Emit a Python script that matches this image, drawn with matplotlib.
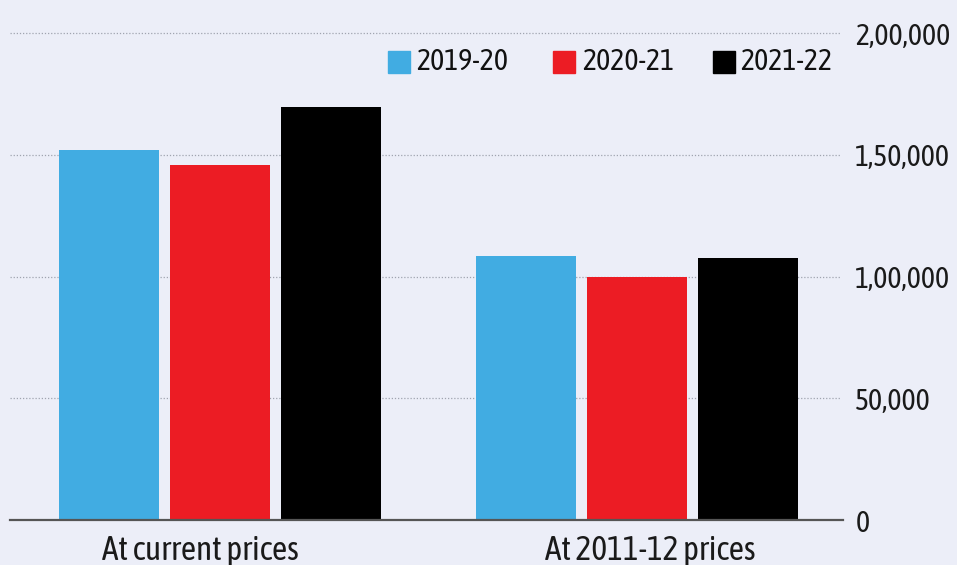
import matplotlib
matplotlib.use("Agg")
import matplotlib.pyplot as plt
import matplotlib.transforms as mtransforms
import numpy as np
from matplotlib.patches import Rectangle

categories = ["At current prices", "At 2011-12 prices"]
years = ["2019-20", "2020-21", "2021-22"]
v2019 = [152000, 108600]
v2020 = [146000, 100000]
v2021 = [169800, 107800]
colors = ["#41ACE2", "#EC1C24", "#000000"]
yticks = [0, 50000, 100000, 150000, 200000]
ytick_labels = ["0", "50,000", "1,00,000", "1,50,000", "2,00,000"]

bg = "#ECEEF8"
plt.rcParams['font.family'] = ['Asap Condensed', 'DejaVu Sans']

fig = plt.figure(figsize=(9.57, 5.65), dpi=100, facecolor=bg)
W, H = 957, 565
ax = fig.add_axes([10 / W, 1 - 520 / H, (840 - 10) / W, (520 - 33.3) / H])
ax.set_facecolor(bg)

x = np.arange(len(categories))
w = 0.24
step = 0.266
series = [v2019, v2020, v2021]
for i, (vals, c) in enumerate(zip(series, colors)):
    ax.bar(x + (i - 1) * step, vals, width=w, color=c, zorder=3)

ax.set_xlim(-0.504, 1.487)
ax.set_ylim(0, 200000)

for t in yticks[1:]:
    ax.axhline(t, color="#A0A4B0", lw=0.9, ls=(0, (1, 1.5)), zorder=1, clip_on=False)
ax.axhline(0, color="#555555", lw=1.6, zorder=4, clip_on=False, xmax=1.004)

for s in ax.spines.values():
    s.set_visible(False)

ax.yaxis.tick_right()
ax.set_yticks(yticks)
ax.set_yticklabels(ytick_labels, fontsize=21.5, color="#1A1A1A")
ax.tick_params(axis="y", length=0, pad=11)
ax.set_xticks(x)
ax.set_xticklabels(categories, fontsize=24, color="#1A1A1A")
ax.tick_params(axis="x", length=0, pad=10)
# labels in the reference sit slightly off the group centres
for lbl, dx in zip(ax.get_xticklabels(), [-20, 13]):
    lbl.set_transform(lbl.get_transform() +
                      mtransforms.ScaledTranslation(dx / 100, 0, fig.dpi_scale_trans))

# legend
leg_sq = [388, 553, 713]
leg_tx = [416, 582, 740]
for sx, tx, c, lab in zip(leg_sq, leg_tx, colors, years):
    fig.patches.append(Rectangle((sx / W, 1 - 73 / H), 22 / W, 22 / H,
                                 transform=fig.transFigure, color=c))
    fig.text(tx / W, 1 - 62 / H, lab, fontsize=21.5, color="#111111",
             va="center", ha="left")

fig.savefig("out.png", dpi=100, facecolor=bg)
